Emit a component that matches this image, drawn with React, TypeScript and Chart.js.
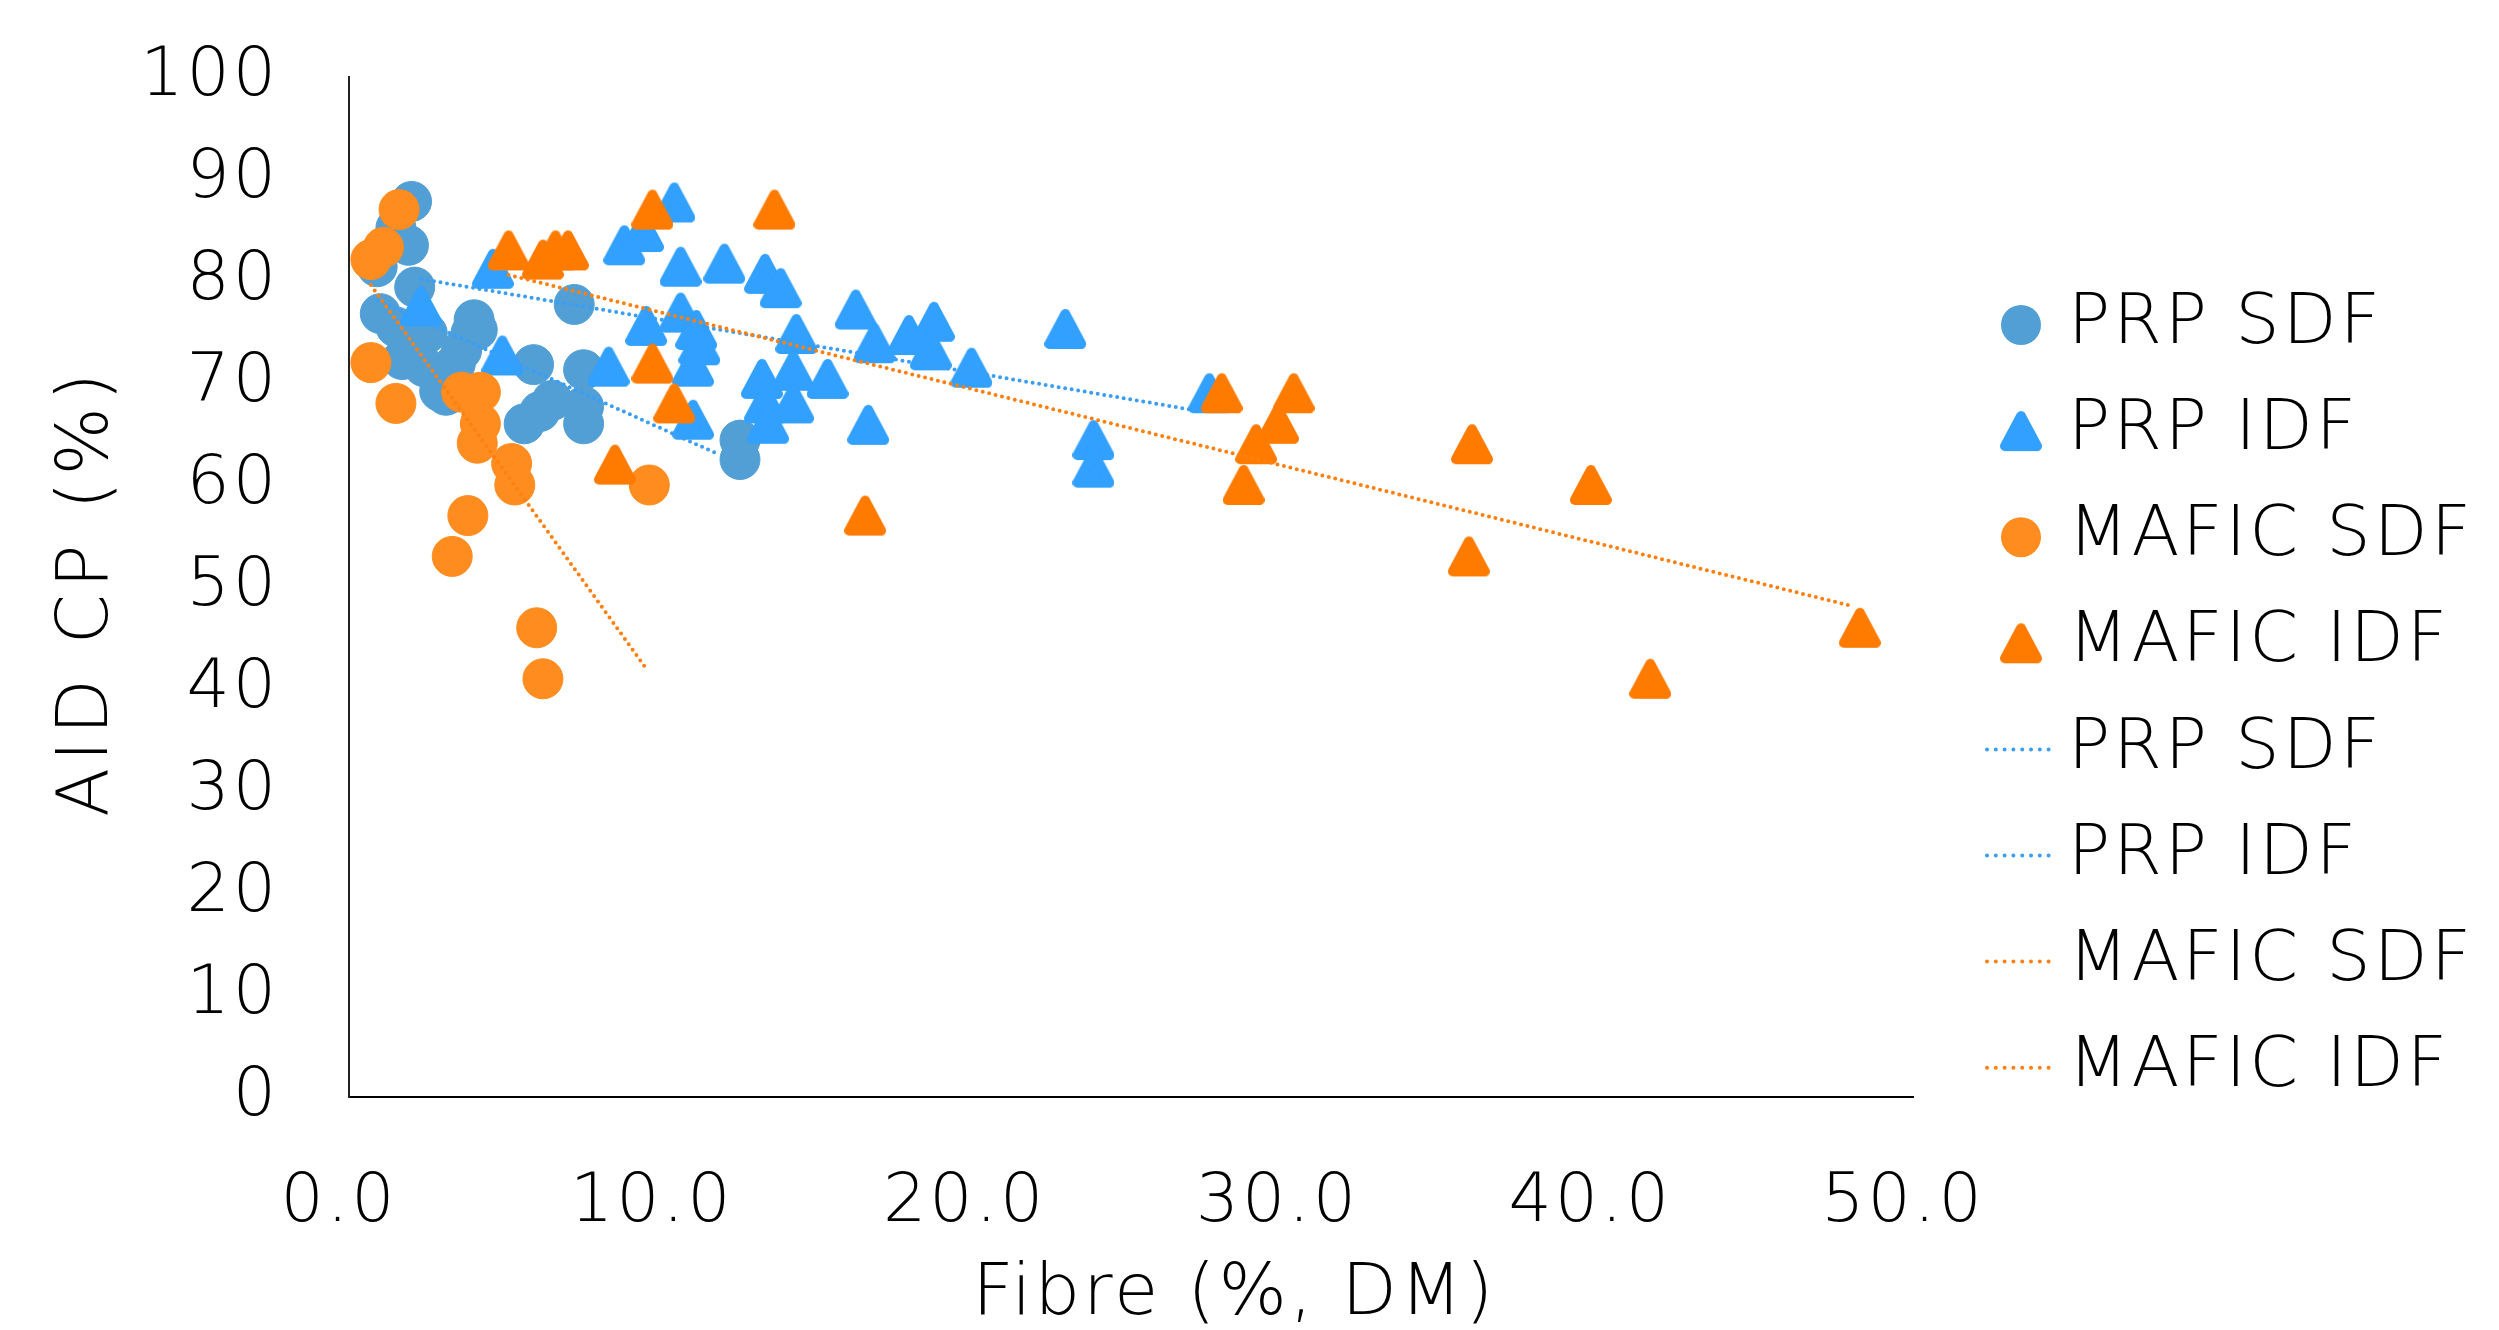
import React, { useEffect, useRef } from 'react';
import { Chart, registerables } from 'chart.js';

Chart.register(...registerables);

// ---------------- data ----------------
const SERIES_NAMES = ['PRP SDF', 'PRP IDF', 'MAFIC SDF', 'MAFIC IDF'];

const PRP_SDF_X = [2.0, 1.9, 1.5, 0.9, 2.1, 1.0, 1.5, 2.5, 1.7, 2.4, 2.9, 4.0, 4.1, 3.6, 3.4, 3.1, 3.9, 5.9, 7.2, 7.5, 7.5, 7.5, 6.5, 6.1, 5.6, 12.5, 12.5];
const PRP_SDF_Y = [87.8, 83.5, 85.2, 81.4, 79.4, 76.8, 75.5, 74.9, 72.3, 71.6, 69.2, 76.2, 75.2, 73.2, 71.9, 68.8, 74.9, 71.8, 77.7, 71.3, 67.7, 66.0, 68.3, 67.2, 66.0, 64.4, 62.5];

const PRP_IDF_X = [2.3, 4.6, 4.9, 8.3, 8.8, 9.4, 10.4, 10.6, 12.0, 13.3, 13.8, 9.5, 10.6, 11.1, 11.2, 11.0, 11.0, 14.3, 13.2, 14.2, 14.2, 13.3, 13.4, 15.3, 16.2, 16.8, 16.6, 17.9, 18.7, 18.6, 19.9, 22.9, 23.8, 23.8, 27.5];
const PRP_IDF_Y = [77.5, 81.2, 72.7, 71.6, 83.5, 84.8, 87.7, 81.4, 81.7, 80.7, 79.3, 75.6, 76.9, 75.2, 73.7, 71.6, 66.4, 74.8, 70.4, 71.2, 68.0, 68.0, 66.0, 70.4, 77.2, 73.9, 65.9, 74.7, 76.0, 73.2, 71.5, 75.3, 64.4, 61.7, 69.0];

const MAFIC_SDF_X = [1.6, 1.1, 0.7, 0.7, 1.5, 3.6, 4.2, 4.2, 4.1, 5.2, 5.3, 9.6, 3.8, 3.3, 6.0, 6.2];
const MAFIC_SDF_Y = [87.0, 83.3, 82.1, 72.0, 68.0, 69.1, 69.1, 66.0, 64.1, 62.1, 60.0, 60.0, 57.0, 53.0, 46.0, 41.0];

const MAFIC_IDF_X = [5.1, 6.2, 6.6, 7.0, 9.7, 13.6, 9.7, 10.4, 8.5, 16.5, 27.9, 30.2, 29.7, 29.0, 28.6, 35.9, 35.8, 39.7, 41.6, 48.3];
const MAFIC_IDF_Y = [83.0, 82.1, 83.0, 83.0, 87.0, 87.0, 71.9, 68.0, 62.0, 57.0, 69.0, 69.0, 66.0, 64.0, 60.0, 64.0, 53.0, 60.0, 41.0, 46.0];

// linear trend lines: [start, end]
const TREND_PRP_SDF_X = [0.9, 11.75];
const TREND_PRP_SDF_Y = [78.1, 63.1];
const TREND_PRP_IDF_X = [2.3, 26.9];
const TREND_PRP_IDF_Y = [80.2, 67.4];
const TREND_MAFIC_SDF_X = [0.7, 9.5];
const TREND_MAFIC_SDF_Y = [79.6, 42.0];
const TREND_MAFIC_IDF_X = [5.1, 48.1];
const TREND_MAFIC_IDF_Y = [80.6, 48.1];

const X_TICK_LABELS = ['0.0', '10.0', '20.0', '30.0', '40.0', '50.0'];
const Y_TICK_LABELS = ['0', '10', '20', '30', '40', '50', '60', '70', '80', '90', '100'];
const X_TITLE = 'Fibre (%, DM)';
const Y_TITLE = 'AID CP (%)';

// ---------------- styles ----------------
const C_PRP_SDF = '#529FD5';
const C_PRP_IDF = '#31A0FF';
const C_MAFIC_SDF = '#FF8C1E';
const C_MAFIC_IDF = '#FF7B00';
const C_TREND_PRP = '#3A9EF5';
const C_TREND_MAFIC = '#FF8010';
const FONT = '"DejaVu Sans", sans-serif';
const WEIGHT = '300';
const SPACING = '3px';

const zip = (xs: number[], ys: number[]) => xs.map((x, i) => ({ x, y: ys[i] }));

function makeTriangle(color: string): HTMLCanvasElement {
  const c = document.createElement('canvas');
  c.width = 42;
  c.height = 42;
  const g = c.getContext('2d')!;
  g.fillStyle = color;
  g.strokeStyle = color;
  g.lineJoin = 'round';
  g.lineWidth = 10;
  g.beginPath();
  g.moveTo(21, 6);
  g.lineTo(37, 36);
  g.lineTo(5, 36);
  g.closePath();
  g.fill();
  g.stroke();
  return c;
}

export default function App() {
  const ref = useRef<HTMLCanvasElement | null>(null);

  useEffect(() => {
    const canvas = ref.current!;
    const triBlue = makeTriangle(C_PRP_IDF);
    const triOrange = makeTriangle(C_MAFIC_IDF);

    const dotted = { borderDash: [0, 6.6], borderCapStyle: 'round' as const, borderWidth: 4, pointRadius: 0, showLine: true, fill: false };

    const datasets: any[] = [
      { label: SERIES_NAMES[0], data: zip(PRP_SDF_X, PRP_SDF_Y), pointStyle: 'circle', pointRadius: 20, backgroundColor: C_PRP_SDF, borderColor: C_PRP_SDF, borderWidth: 1, order: 8, _kind: 'circle' },
      { label: SERIES_NAMES[1], data: zip(PRP_IDF_X, PRP_IDF_Y), pointStyle: triBlue, pointRadius: 20, backgroundColor: C_PRP_IDF, borderColor: C_PRP_IDF, order: 7, _kind: 'tri' },
      { label: SERIES_NAMES[2], data: zip(MAFIC_SDF_X, MAFIC_SDF_Y), pointStyle: 'circle', pointRadius: 20, backgroundColor: C_MAFIC_SDF, borderColor: C_MAFIC_SDF, borderWidth: 1, order: 6, _kind: 'circle' },
      { label: SERIES_NAMES[3], data: zip(MAFIC_IDF_X, MAFIC_IDF_Y), pointStyle: triOrange, pointRadius: 20, backgroundColor: C_MAFIC_IDF, borderColor: C_MAFIC_IDF, order: 5, _kind: 'tri' },
      { label: SERIES_NAMES[0], data: zip(TREND_PRP_SDF_X, TREND_PRP_SDF_Y), borderColor: C_TREND_PRP, ...dotted, order: 4, _kind: 'line' },
      { label: SERIES_NAMES[1], data: zip(TREND_PRP_IDF_X, TREND_PRP_IDF_Y), borderColor: C_TREND_PRP, ...dotted, order: 3, _kind: 'line' },
      { label: SERIES_NAMES[2], data: zip(TREND_MAFIC_SDF_X, TREND_MAFIC_SDF_Y), borderColor: C_TREND_MAFIC, ...dotted, order: 2, _kind: 'line' },
      { label: SERIES_NAMES[3], data: zip(TREND_MAFIC_IDF_X, TREND_MAFIC_IDF_Y), borderColor: C_TREND_MAFIC, ...dotted, order: 1, _kind: 'line' },
    ];

    const setSpacing = (chart: any) => {
      chart.ctx.letterSpacing = SPACING;
    };

    const decor = {
      id: 'decor',
      beforeUpdate: setSpacing,
      beforeLayout: setSpacing,
      beforeDraw: setSpacing,
      afterDraw(chart: any) {
        const ctx = chart.ctx as CanvasRenderingContext2D;
        const area = chart.chartArea;
        ctx.save();
        (ctx as any).letterSpacing = SPACING;
        ctx.fillStyle = '#000';
        ctx.textBaseline = 'middle';
        // axis titles
        ctx.font = `${WEIGHT} 72px ${FONT}`;
        ctx.textAlign = 'center';
        ctx.fillText(X_TITLE, area.left + (area.right - area.left) * 0.566, 1295);
        ctx.save();
        (ctx as any).letterSpacing = '6px';
        ctx.translate(88, (area.top + area.bottom) / 2 + 5);
        ctx.rotate(-Math.PI / 2);
        ctx.fillText(Y_TITLE, 0, 0);
        ctx.restore();
        // legend
        const legendTop = 325;
        const step = 106.1;
        const cx = 2021;
        ctx.font = `${WEIGHT} 70px ${FONT}`;
        ctx.textAlign = 'left';
        chart.data.datasets.forEach((ds: any, i: number) => {
          const y = legendTop + i * step;
          if (ds._kind === 'circle') {
            ctx.beginPath();
            ctx.arc(cx, y, 20, 0, Math.PI * 2);
            ctx.fillStyle = ds.backgroundColor;
            ctx.fill();
          } else if (ds._kind === 'tri') {
            const img = ds.pointStyle as HTMLCanvasElement;
            ctx.drawImage(img, cx - img.width / 2, y - img.height / 2);
          } else {
            ctx.save();
            ctx.strokeStyle = ds.borderColor;
            ctx.lineWidth = 4;
            ctx.lineCap = 'round';
            ctx.setLineDash([0, 8.8]);
            ctx.beginPath();
            ctx.moveTo(1987, y);
            ctx.lineTo(2056, y);
            ctx.stroke();
            ctx.restore();
          }
          ctx.fillStyle = '#000';
          ctx.fillText(ds.label, 2068, y);
        });
        ctx.restore();
      },
    };

    const chart = new Chart(canvas, {
      type: 'scatter',
      data: { datasets },
      options: {
        animation: false,
        responsive: false,
        events: [],
        layout: { padding: { left: 0, top: 77, right: 586, bottom: 0 } },
        plugins: { legend: { display: false }, tooltip: { enabled: false } },
        scales: {
          x: {
            type: 'linear',
            min: 0,
            max: 50,
            ticks: {
              stepSize: 10,
              color: '#000',
              font: { family: FONT, size: 68, weight: WEIGHT },
              padding: 66,
              labelOffset: -10,
              callback: (_v: any, i: number) => X_TICK_LABELS[i],
            },
            grid: { display: false, drawTicks: false },
            border: { display: true, color: '#000', width: 2 },
            afterFit: (s: any) => { s.height = 233; s.paddingLeft = 0; s.paddingRight = 0; },
          },
          y: {
            type: 'linear',
            min: 0,
            max: 100,
            ticks: {
              stepSize: 10,
              color: '#000',
              font: { family: FONT, size: 68, weight: WEIGHT },
              padding: 70,
              callback: (_v: any, i: number) => Y_TICK_LABELS[i],
            },
            grid: { display: false, drawTicks: false },
            border: { display: true, color: '#222', width: 2 },
            afterFit: (s: any) => { s.width = 349; s.paddingTop = 0; s.paddingBottom = 0; },
          },
        },
      },
      plugins: [decor],
    } as any);

    return () => chart.destroy();
  }, []);

  return (
    <div style={{ position: 'fixed', left: 0, top: 0, width: 2499, height: 1330, background: '#fff' }}>
      <canvas ref={ref} width={2499} height={1330} style={{ width: 2499, height: 1330, display: 'block' }} />
    </div>
  );
}
